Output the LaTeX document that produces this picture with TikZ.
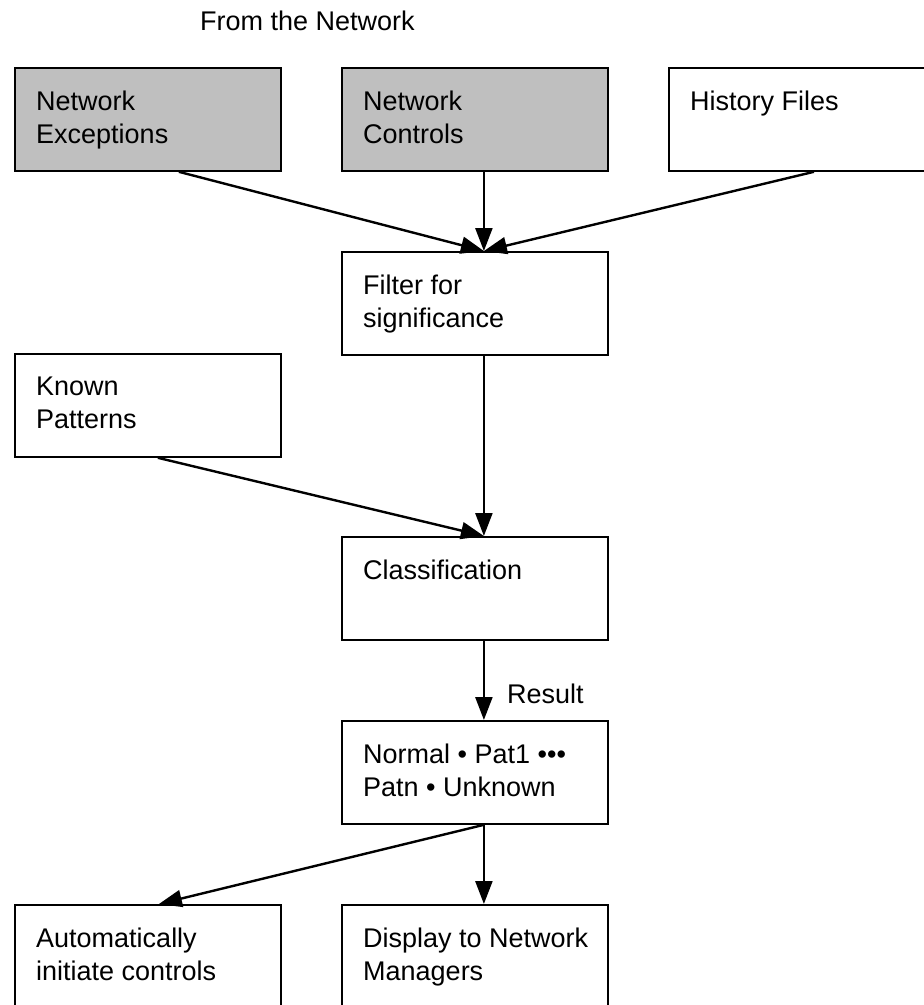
\documentclass[tikz,border=0pt]{standalone}
\usepackage{fontspec}
\setmainfont{Liberation Sans}
\usetikzlibrary{arrows.meta}

\tikzset{
    box/.style = {draw, line width = 1.8pt, anchor = north west, minimum width = 266pt, minimum height = 103pt, inner sep = 0pt},
    src/.style = {box, fill = black!25},
    txt/.style = {anchor = north west, inner sep = 0pt, align = left, font = \fontsize{27}{33}\selectfont},
    arr/.style = {line width = 2.4pt, -{Triangle[length = 23pt, width = 17pt]}}
}

\begin{document}
\begin{tikzpicture}[x = 1pt, y = -1pt]
    \useasboundingbox (0, 0) rectangle (924, 1005);
    \clip (0, 0) rectangle (924, 1005);

    \node [txt, anchor = base west] (from) at (200, 30) {From the Network};

    % inputs
    \node [src] (exc) at (14, 67) {};
    \node [txt] (exc-t) at ([shift = {(22, 24)}]exc.north west) {Network\\Exceptions};
    \node [src] (ctl) at (341, 67) {};
    \node [txt] (ctl-t) at ([shift = {(22, 24)}]ctl.north west) {Network\\Controls};
    \node [box] (hist) at (668, 67) {};
    \node [txt] (hist-t) at ([shift = {(22, 24)}]hist.north west) {History Files};

    \node [box] (filt) at (341, 251) {};
    \node [txt] (filt-t) at ([shift = {(22, 24)}]filt.north west) {Filter for\\significance};
    \node [box] (known) at (14, 353) {};
    \node [txt] (known-t) at ([shift = {(22, 24)}]known.north west) {Known\\Patterns};
    \node [box] (cls) at (341, 536) {};
    \node [txt] (cls-t) at ([shift = {(22, 24)}]cls.north west) {Classification};
    \node [box] (res) at (341, 720) {};
    \node [txt] (res-t) at ([shift = {(22, 24)}]res.north west) {Normal \textbullet{} Pat1 \textbullet\textbullet\textbullet\\Patn \textbullet{} Unknown};

    % outputs
    \node [box] (auto) at (14, 904) {};
    \node [txt] (auto-t) at ([shift = {(22, 24)}]auto.north west) {Automatically\\initiate controls};
    \node [box] (disp) at (341, 904) {};
    \node [txt] (disp-t) at ([shift = {(22, 24)}]disp.north west) {Display to Network\\Managers};

    \draw [arr] ([xshift = 31pt]exc.south) -- ([xshift = 9pt]filt.north);
    \draw [arr] ([xshift = 9pt]ctl.south) -- ([xshift = 9pt]filt.north);
    \draw [arr] ([xshift = 12pt]hist.south) -- ([xshift = 9pt]filt.north);
    \draw [arr] ([xshift = 9pt]filt.south) -- ([xshift = 9pt]cls.north);
    \draw [arr] ([xshift = 10pt]known.south) -- ([xshift = 9pt]cls.north);
    \draw [arr] ([xshift = 9pt]cls.south) -- ([xshift = 9pt]res.north);
    \node [txt, anchor = base west] (result) at (507, 703) {Result};
    \draw [arr] ([xshift = 9pt]res.south) -- ([xshift = 9pt]disp.north);
    \draw [arr] ([xshift = 9pt]res.south) -- ([xshift = 11pt]auto.north);
\end{tikzpicture}
\end{document}
